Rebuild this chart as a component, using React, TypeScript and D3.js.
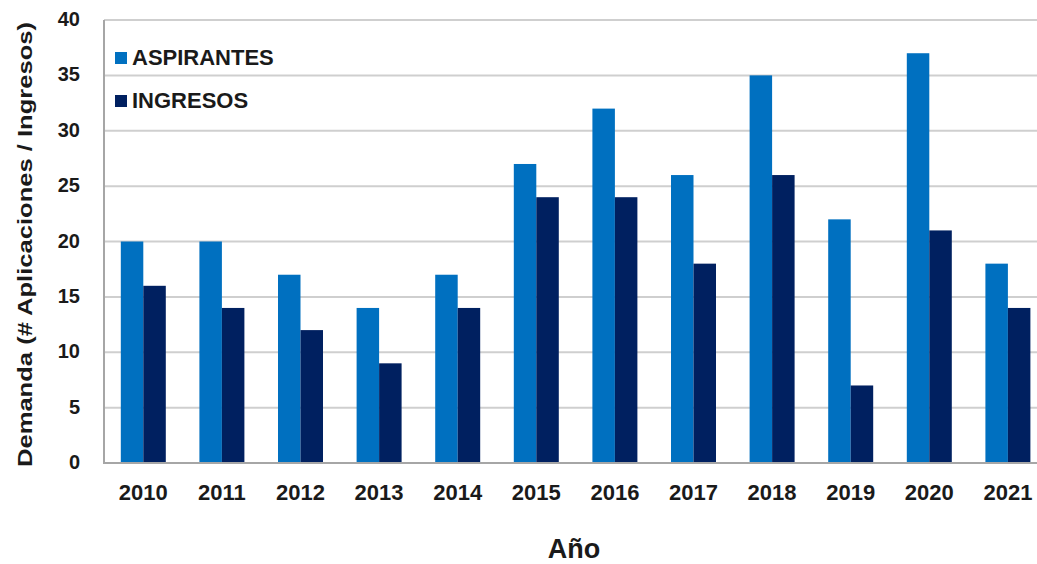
import React from "react";
import * as d3 from "d3";

const years = ["2010","2011","2012","2013","2014","2015","2016","2017","2018","2019","2020","2021"];
const aspirantes = [20,20,17,14,17,27,32,26,35,22,37,18];
const ingresos = [16,14,12,9,14,24,24,18,26,7,21,14];
const yTicks = [0,5,10,15,20,25,30,35,40];
const seriesNames = ["ASPIRANTES","INGRESOS"];
const colors = ["#0070C0","#002060"];

export default function App() {
  const W = 1037, H = 564;
  const left = 104, top = 20, bottom = 463;
  const bandW = 78.6;
  const right = left + bandW * years.length;
  const x = d3.scaleBand<string>().domain(years).range([left, right]).paddingInner(0).paddingOuter(0);
  const inner = d3.scaleBand<string>().domain(seriesNames).range([0, x.bandwidth()]).paddingOuter(0.747).paddingInner(0);
  const y = d3.scaleLinear().domain([0, 40]).range([bottom, top]);
  const font = "'Liberation Sans', Arial, sans-serif";
  const txt = "#1a1a1a";
  const series = [aspirantes, ingresos];
  return (
    <svg width={W} height={H} style={{position:"absolute", left:0, top:0, background:"#fff"}} fontFamily={font}>
      {yTicks.map(t => (
        <line key={"g"+t} x1={left} x2={W} y1={y(t)} y2={y(t)} stroke="#cfcfcf" strokeWidth={2} />
      ))}
      {series.map((vals, si) => vals.map((v, i) => (
        <rect key={si+"-"+i} x={x(years[i])! + inner(seriesNames[si])!} y={y(v)} width={inner.bandwidth()} height={y(0)-y(v)} fill={colors[si]} />
      )))}
      <line x1={left} x2={left} y1={top} y2={bottom+1} stroke="#a6a6a6" strokeWidth={2} />
      <line x1={left} x2={W} y1={bottom} y2={bottom} stroke="#a6a6a6" strokeWidth={2} />
      {yTicks.map(t => (
        <text key={"t"+t} x={80} y={y(t)} dy="0.3em" textAnchor="end" fontSize={20} fontWeight="bold" fill={txt}>{t}</text>
      ))}
      {years.map(yr => (
        <text key={yr} x={x(yr)! + x.bandwidth()/2} y={500} textAnchor="middle" fontSize={22} fontWeight="bold" fill={txt}>{yr}</text>
      ))}
      <text transform={`translate(32,244.5) rotate(-90)`} textAnchor="middle" fontSize={21} fontWeight="bold" fill={txt} textLength={445} lengthAdjust="spacingAndGlyphs">Demanda (# Aplicaciones / Ingresos)</text>
      <text x={574} y={558} textAnchor="middle" fontSize={27} fontWeight="bold" fill={txt}>Año</text>
      {seriesNames.map((n, i) => (
        <g key={n} transform={`translate(115,${52 + i*43})`}>
          <rect x={0} y={0} width={12} height={12} fill={colors[i]} />
          <text x={17} y={12.5} fontSize={22} fontWeight="bold" fill={txt}>{n}</text>
        </g>
      ))}
    </svg>
  );
}
